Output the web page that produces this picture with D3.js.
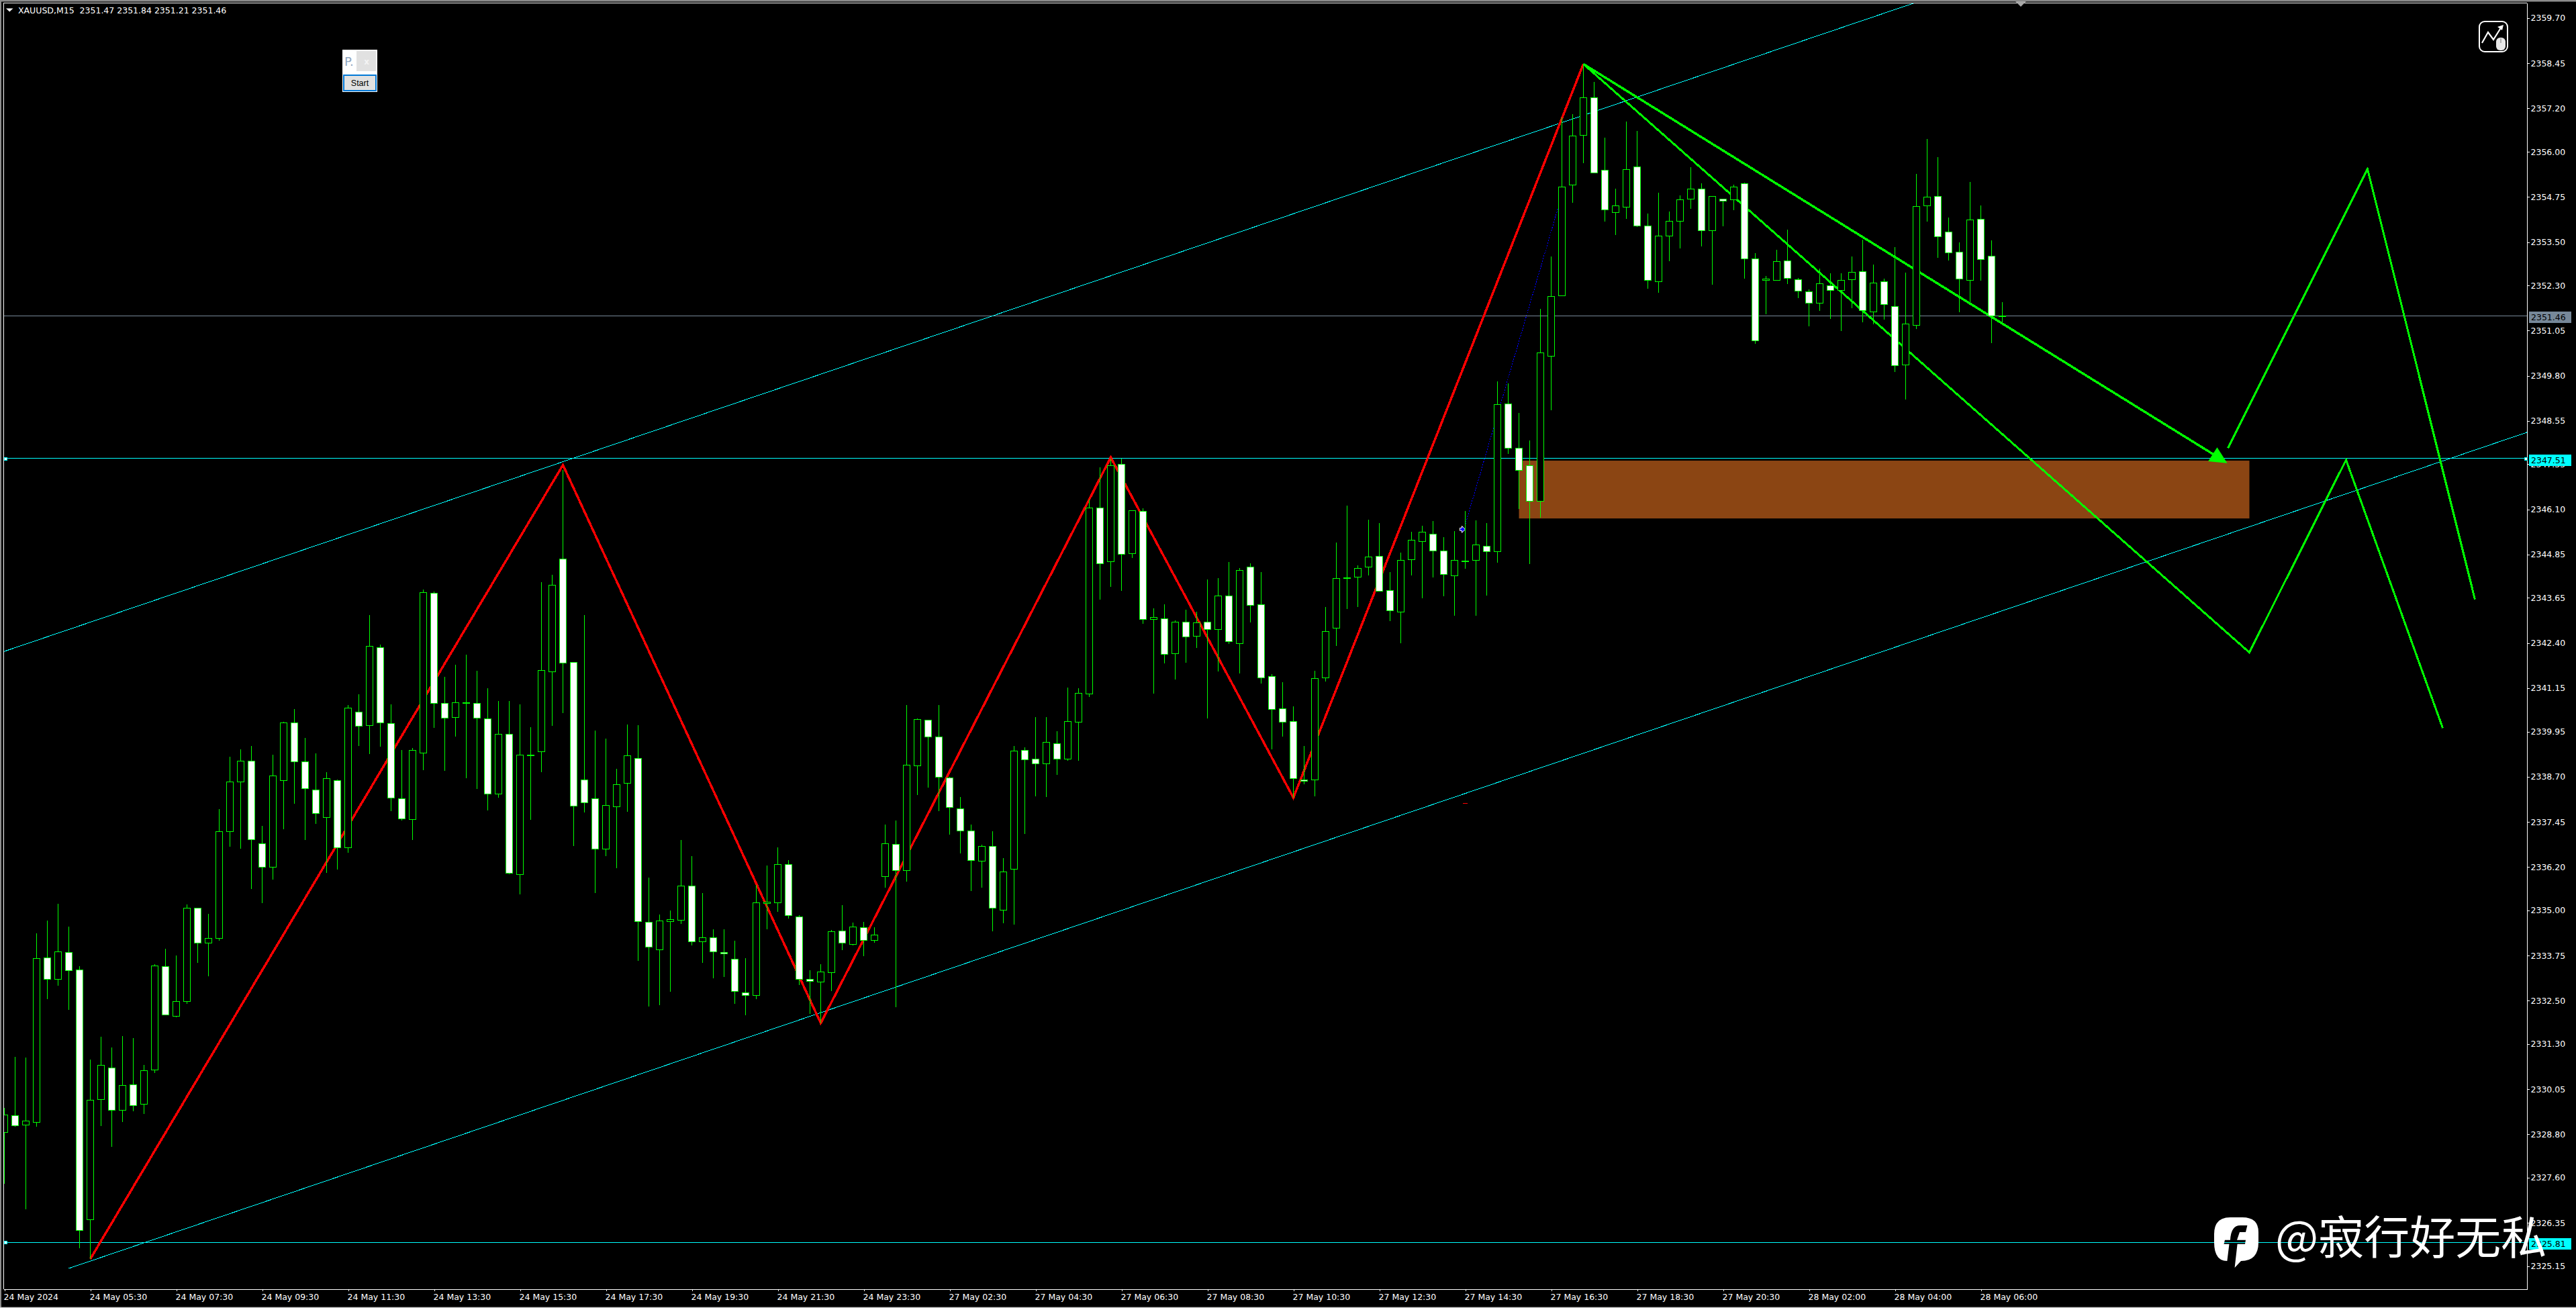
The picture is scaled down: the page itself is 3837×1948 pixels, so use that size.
<!DOCTYPE html>
<html>
<head>
<meta charset="utf-8">
<title>XAUUSD,M15</title>
<script src="https://cdn.jsdelivr.net/npm/d3@7"></script>
<style>
    html, body { margin: 0; padding: 0; background: #000; overflow: hidden; }
    svg { display: block; }
    text { font-family: "DejaVu Sans", sans-serif; font-size: 12.5px; }
</style>
</head>
<body>
<div id="wrapper"></div>
<script>
// M15 bars, index 0 = 24 May 2024 03:30
const opens = [
    2328.86,2329.33,2329.07,2329.14,2333.70,2333.10,2333.85,2333.36,2326.44,2329.77,
    2330.65,2329.48,2330.18,2329.64,2330.59,2333.46,2332.08,2332.49,2335.07,2334.11,
    2334.24,2337.19,2338.56,2339.14,2336.86,2336.21,2338.60,2340.20,2339.12,2338.34,
    2337.58,2338.60,2336.75,2340.49,2340.12,2342.28,2340.18,2338.10,2337.53,2339.36,
    2343.78,2340.74,2340.35,2340.74,2340.74,2340.31,2338.23,2339.88,2336.00,2339.29,
    2339.40,2341.61,2344.74,2341.87,2338.62,2338.10,2336.71,2337.88,2338.53,2339.21,
    2334.68,2333.92,2334.70,2334.74,2335.69,2334.15,2334.25,2333.85,2333.66,2332.73,
    2332.66,2335.20,2335.22,2336.28,2334.83,2333.10,2333.03,2333.29,2334.44,2334.07,
    2334.53,2334.18,2335.95,2336.84,2336.12,2339.01,2340.27,2339.81,2338.67,2337.82,
    2337.21,2336.37,2336.79,2335.02,2336.15,2339.44,2339.20,2339.07,2339.62,2339.20,
    2340.22,2341.00,2346.15,2344.66,2347.35,2344.88,2346.05,2343.06,2343.08,2342.11,
    2342.99,2342.60,2342.99,2342.78,2343.71,2342.39,2344.51,2343.47,2341.48,2340.59,
    2340.23,2338.62,2338.62,2341.44,2342.82,2344.19,2344.23,2344.51,2344.81,2343.86,
    2343.26,2344.72,2345.22,2345.42,2344.96,2344.27,2344.66,2344.70,2345.09,2344.94,
    2349.03,2347.81,2347.33,2346.33,2350.35,2352.02,2355.09,2356.46,2357.51,2355.50,
    2354.33,2354.48,2355.59,2353.96,2352.41,2353.68,2354.09,2354.70,2354.98,2353.83,
    2354.70,2354.68,2355.13,2353.04,2352.45,2352.45,2352.99,2352.47,2352.13,2351.82,
    2352.31,2352.18,2352.47,2352.69,2351.57,2352.41,2351.73,2350.11,2351.20,2354.51,
    2354.77,2353.79,2353.23,2352.45,2354.14,2353.12,2351.47
]
const highs = [
    2329.53,2330.94,2330.92,2334.37,2334.72,2335.18,2334.55,2333.46,2330.87,2331.50,
    2331.21,2331.52,2331.46,2330.72,2333.51,2333.94,2333.75,2335.16,2335.07,2334.90,
    2337.81,2339.25,2339.45,2339.55,2337.34,2339.31,2340.22,2340.57,2339.77,2339.34,
    2338.82,2338.62,2340.68,2340.98,2343.17,2342.35,2340.70,2339.44,2339.49,2343.88,
    2343.82,2341.46,2341.80,2342.07,2341.63,2341.15,2340.79,2340.79,2340.70,2340.07,
    2344.08,2344.30,2347.19,2341.87,2343.17,2339.98,2339.75,2338.91,2340.14,2340.12,
    2335.91,2334.88,2335.00,2336.95,2336.51,2335.48,2334.48,2334.48,2334.16,2333.68,
    2335.70,2336.24,2336.75,2336.39,2334.87,2333.35,2333.51,2334.46,2335.14,2334.66,
    2334.68,2334.53,2337.38,2337.49,2340.68,2340.31,2340.27,2340.68,2338.69,2338.13,
    2337.38,2336.82,2337.19,2336.45,2339.56,2339.51,2340.35,2340.35,2339.96,2341.16,
    2341.15,2346.37,2347.26,2347.50,2347.50,2346.07,2346.13,2343.36,2343.47,2343.02,
    2343.32,2343.26,2344.17,2344.19,2344.64,2344.47,2344.60,2344.36,2341.54,2341.31,
    2340.64,2339.56,2341.63,2343.40,2345.18,2346.20,2344.56,2345.81,2345.72,2344.36,
    2344.90,2345.48,2345.65,2345.78,2345.33,2345.50,2346.05,2345.79,2345.72,2349.64,
    2349.59,2348.77,2348.01,2351.65,2353.11,2356.95,2357.04,2358.43,2357.93,2356.39,
    2354.98,2356.84,2356.58,2354.29,2354.87,2354.35,2354.79,2355.57,2355.13,2354.77,
    2354.70,2355.09,2355.15,2353.19,2352.56,2353.29,2353.84,2352.51,2352.19,2352.76,
    2352.63,2352.63,2353.11,2353.56,2352.87,2352.49,2353.36,2352.65,2355.39,2356.35,
    2355.85,2354.18,2353.49,2355.16,2354.51,2353.55,2351.84
]
const lows = [
    2327.43,2329.01,2326.72,2329.01,2332.54,2332.91,2332.25,2325.64,2325.35,2329.03,
    2328.45,2329.14,2329.44,2329.36,2330.50,2332.12,2332.04,2332.41,2333.55,2333.17,
    2334.16,2336.76,2336.70,2335.59,2335.21,2335.85,2337.25,2337.95,2336.95,2337.39,
    2336.04,2336.13,2336.60,2339.55,2339.32,2339.53,2337.75,2337.49,2336.95,2338.88,
    2340.05,2338.86,2339.81,2338.65,2338.36,2337.77,2338.12,2336.00,2335.44,2337.51,
    2338.82,2340.10,2340.46,2336.79,2337.71,2335.48,2336.51,2336.17,2337.73,2333.60,
    2332.34,2332.38,2332.75,2334.63,2334.03,2333.55,2333.12,2333.15,2332.41,2332.10,
    2332.54,2334.48,2334.96,2334.78,2332.93,2332.14,2331.88,2332.77,2333.90,2334.03,
    2333.73,2334.11,2335.63,2332.32,2335.80,2338.19,2338.40,2337.75,2337.10,2336.58,
    2335.54,2335.63,2334.42,2334.65,2334.61,2337.12,2338.16,2338.14,2338.75,2339.14,
    2339.14,2340.90,2343.60,2343.95,2343.84,2344.75,2342.93,2341.00,2341.83,2341.39,
    2341.85,2342.26,2340.31,2341.61,2342.37,2341.55,2342.97,2341.28,2339.45,2339.81,
    2338.12,2338.49,2338.16,2341.33,2342.32,2343.34,2343.40,2344.27,2343.82,2343.00,
    2342.39,2344.27,2343.64,2344.21,2343.69,2343.16,2344.46,2343.16,2343.71,2344.62,
    2347.64,2346.11,2344.59,2345.87,2348.85,2352.00,2354.59,2355.68,2355.42,2354.07,
    2353.69,2354.14,2353.92,2352.21,2352.10,2352.97,2353.32,2354.42,2353.38,2352.32,
    2353.94,2354.38,2352.49,2350.68,2351.50,2352.45,2352.34,2351.95,2351.17,2351.59,
    2351.38,2351.04,2351.67,2351.28,2351.22,2351.36,2349.91,2349.14,2351.09,2354.07,
    2353.06,2352.99,2351.56,2351.82,2352.43,2350.71,2351.21
]
const closes = [
    2329.35,2329.05,2329.18,2333.68,2333.10,2333.86,2333.35,2326.15,2329.75,2330.72,
    2329.48,2330.16,2329.60,2330.57,2333.47,2332.12,2332.49,2335.07,2334.11,2334.24,
    2337.19,2338.56,2339.14,2336.96,2336.21,2338.73,2340.20,2339.12,2338.38,2337.69,
    2338.65,2336.75,2340.61,2340.10,2342.32,2340.20,2338.12,2337.55,2339.44,2343.80,
    2340.74,2340.33,2340.76,2340.76,2340.33,2338.23,2339.88,2336.04,2339.31,2339.31,
    2341.65,2344.02,2341.85,2337.90,2337.99,2336.71,2337.92,2338.49,2339.29,2334.70,
    2334.00,2334.72,2334.75,2335.69,2334.15,2334.25,2333.86,2333.81,2332.77,2332.66,
    2335.22,2335.24,2336.28,2334.87,2333.10,2333.05,2333.31,2334.42,2334.11,2334.55,
    2334.18,2334.33,2336.86,2336.12,2339.03,2340.29,2339.81,2338.69,2337.86,2337.21,
    2336.39,2336.79,2335.07,2336.08,2339.42,2339.18,2339.07,2339.66,2339.20,2340.23,
    2341.02,2346.15,2344.60,2347.33,2344.87,2346.07,2343.06,2343.12,2342.09,2342.99,
    2342.58,2342.97,2342.78,2343.71,2342.45,2344.42,2343.45,2341.44,2340.57,2340.22,
    2338.65,2338.58,2341.42,2342.73,2344.19,2344.21,2344.47,2344.79,2343.84,2343.30,
    2344.70,2345.26,2345.48,2344.96,2344.31,2344.70,2344.68,2345.13,2344.94,2349.01,
    2347.81,2347.19,2346.33,2350.44,2352.00,2355.03,2356.44,2357.51,2355.42,2354.40,
    2354.51,2355.52,2353.96,2352.45,2353.68,2354.09,2354.68,2354.98,2353.83,2354.77,
    2354.64,2355.03,2353.04,2350.78,2352.49,2352.97,2352.51,2352.16,2351.82,2352.35,
    2352.18,2352.45,2352.67,2351.61,2352.37,2351.78,2350.09,2351.24,2354.49,2354.75,
    2353.66,2353.21,2352.49,2354.12,2353.03,2351.47,2351.46
]

// price axis labels, top to bottom
const priceTicks = [
    2359.70,2358.45,2357.20,2356.00,2354.75,2353.50,2352.30,2351.05,2349.80,2348.55,
    2347.35,2346.10,2344.85,2343.65,2342.40,2341.15,2339.95,2338.70,2337.45,2336.20,
    2335.00,2333.75,2332.50,2331.30,2330.05,2328.80,2327.60,2326.35,2325.15
]
// time axis labels, one every 8 bars
const timeLabels = [
    "24 May 2024","24 May 05:30","24 May 07:30","24 May 09:30","24 May 11:30","24 May 13:30",
    "24 May 15:30","24 May 17:30","24 May 19:30","24 May 21:30","24 May 23:30","27 May 02:30",
    "27 May 04:30","27 May 06:30","27 May 08:30","27 May 10:30","27 May 12:30","27 May 14:30",
    "27 May 16:30","27 May 18:30","27 May 20:30","28 May 02:00","28 May 04:00","28 May 06:00"
]

// chart objects as [bar index, price]
const zigzag = [[8,2325.35],[52,2347.33],[76,2331.88],[103,2347.54],[120,2338.12],[147,2358.43]]
const upperChannel = [[-1,2342.07],[178,2360.14]]
const lowerChannel = [[6,2325.09],[235,2348.25]]
const forecastA = [[147,2358.43],[209,2342.14],[218,2347.47],[227,2340.05]]
const forecastB = [[147,2358.43],[206,2347.56]]
const forecastC = [[207,2347.80],[220,2355.52],[230,2343.61]]
const arrowHead = [[206,2347.82],[205.16,2347.43],[206.94,2347.38]]
const blueTrend = [[136,2345.68],[145,2354.81]]
const redDash = [[135.78,2337.97],[136.22,2337.97]]
const zone = {from: 141, to: 209, top: 2347.45, bottom: 2345.85}
const levels = [2347.51, 2325.81]
const bidPrice = 2351.46

const lime = "#00ff00", aqua = "#00ffff", bidColor = "#778899"

drawChart()

function drawChart() {
    const dimensions = {
        width: 3837, height: 1948,
        left: 5, right: 3764, top: 4, bottom: 1920,
    }
    const wrapper = d3.select("#wrapper").append("svg")
        .attr("width", dimensions.width)
        .attr("height", dimensions.height)
    wrapper.append("rect")
        .attr("width", dimensions.width).attr("height", dimensions.height).attr("fill", "#000")

    // bar i sits at 6.5 + 16 * i
    const xScale = d3.scaleLinear().domain([-0.09375, 234.84375]).range([dimensions.left, dimensions.right])
    // 53.8 px per dollar
    const yScale = d3.scaleLinear().domain([2360.1275, 2324.514]).range([dimensions.top, dimensions.bottom])

    drawFrame(wrapper, dimensions)

    wrapper.append("clipPath").attr("id", "plot").append("rect")
        .attr("x", dimensions.left + 1).attr("y", dimensions.top + 1)
        .attr("width", dimensions.right - dimensions.left - 1)
        .attr("height", dimensions.bottom - dimensions.top - 1)
    const bounds = wrapper.append("g").attr("clip-path", "url(#plot)")

    drawObjects(bounds, xScale, yScale)
    drawCandles(bounds, xScale, yScale)
    drawAxes(wrapper, xScale, yScale, dimensions)
    drawPriceTags(wrapper, yScale, dimensions)
    drawPanel(wrapper)
    drawIcon(wrapper)
    drawWatermark(wrapper)
}

function drawFrame(wrapper, dimensions) {
    wrapper.append("rect").attr("width", dimensions.width).attr("height", 2.5).attr("fill", "#8c8c8c")
    wrapper.append("rect").attr("width", 2).attr("height", dimensions.height).attr("fill", "#8c8c8c")
    wrapper.append("rect").attr("y", 1946.7).attr("width", dimensions.width).attr("height", 1.3).attr("fill", "#d4d4d4")
    wrapper.append("path")
        .attr("d", `M${dimensions.left},${dimensions.bottom}V${dimensions.top + 0.5}H${dimensions.right}`)
        .attr("fill", "none").attr("stroke", "#fff").attr("shape-rendering", "crispEdges")
}

function drawObjects(bounds, xScale, yScale) {
    const line = d3.line().x(d => xScale(d[0])).y(d => yScale(d[1]))
    const addLine = (points, color, width) => bounds.append("path")
        .attr("d", line(points))
        .attr("fill", "none")
        .attr("stroke", color)
        .attr("stroke-width", width)
        .attr("stroke-linejoin", "miter")
        .attr("shape-rendering", "crispEdges")

    bounds.append("rect")
        .attr("x", xScale(zone.from))
        .attr("y", yScale(zone.top))
        .attr("width", xScale(zone.to) - xScale(zone.from))
        .attr("height", yScale(zone.bottom) - yScale(zone.top))
        .attr("fill", "#8b4513")

    addLine([[-1, bidPrice], [235, bidPrice]], bidColor, 1)
    levels.forEach(level => addLine([[-1, level], [235, level]], aqua, 1))
    addLine(upperChannel, aqua, 1)
    addLine(lowerChannel, aqua, 1)
    addLine(zigzag, "#ff0000", 3.4)
    addLine(forecastA, lime, 3)
    addLine(forecastB, lime, 3.4)
    addLine(forecastC, lime, 3)
    bounds.append("path").attr("d", line(arrowHead) + "Z").attr("fill", lime)
    addLine(blueTrend, "#0000ff", 1).attr("stroke-dasharray", "2,2")
    addLine(redDash, "#ff0000", 1)

    // trendline anchor left on the chart
    const ax = xScale(blueTrend[0][0]) - 3, ay = yScale(blueTrend[0][1]) + 7
    bounds.append("path")
        .attr("d", `M${ax - 5},${ay - 2}h3v-3l5,5l-5,5v-3h-3z`)
        .attr("fill", "#0000ff").attr("stroke", "#fff").attr("stroke-width", 1)
}

function drawCandles(bounds, xScale, yScale) {
    const dataset = opens.map((open, i) => ({i, open, high: highs[i], low: lows[i], close: closes[i]}))
    const candles = bounds.append("g").attr("shape-rendering", "crispEdges")
    const centre = d => Math.round(xScale(d.i) - 0.5) + 0.5

    candles.selectAll("line")
        .data(dataset)
        .join("line")
        .attr("x1", centre)
        .attr("x2", centre)
        .attr("y1", d => Math.round(yScale(d.high)))
        .attr("y2", d => Math.round(yScale(d.low)))
        .attr("stroke", lime)

    const bodyTop = d => Math.round(yScale(Math.max(d.open, d.close)))
    candles.selectAll("rect")
        .data(dataset)
        .join("rect")
        .attr("x", d => centre(d) - 5)
        .attr("y", d => bodyTop(d) + 0.5)
        .attr("width", 10)
        .attr("height", d => Math.max(Math.round(yScale(Math.min(d.open, d.close))) - bodyTop(d), 1))
        .attr("fill", d => d.close >= d.open ? "#000" : "#fff")
        .attr("stroke", lime)
}

function drawAxes(wrapper, xScale, yScale, dimensions) {
    const yAxisGenerator = d3.axisRight(yScale)
        .tickValues(priceTicks)
        .tickFormat(d3.format(".2f"))
        .tickSize(4)
        .tickPadding(2)
        .tickSizeOuter(0)
    const yAxis = wrapper.append("g")
        .attr("transform", `translate(${dimensions.right - 0.5},0)`)
        .call(yAxisGenerator)
    yAxis.attr("font-family", null).attr("font-size", null)
    yAxis.selectAll(".domain, .tick line").attr("stroke", "#fff").attr("shape-rendering", "crispEdges")
    yAxis.selectAll("text").attr("fill", "#fff")

    const xAxisGenerator = d3.axisBottom(xScale)
        .tickValues(timeLabels.map((d, i) => i * 8))
        .tickFormat((d, i) => timeLabels[i])
        .tickSize(3)
        .tickSizeOuter(0)
    const xAxis = wrapper.append("g")
        .attr("transform", `translate(0,${dimensions.bottom - 0.5})`)
        .call(xAxisGenerator)
    xAxis.attr("font-family", null).attr("font-size", null)
    xAxis.selectAll(".domain, .tick line").attr("stroke", "#fff").attr("shape-rendering", "crispEdges")
    xAxis.selectAll("text")
        .attr("fill", "#fff")
        .attr("text-anchor", "start")
        .attr("x", -1.5)
        .attr("y", 8)

    // symbol line top left
    wrapper.append("path").attr("d", "M9,12.5h10.5l-5.25,5z").attr("fill", "#fff")
    wrapper.append("text")
        .attr("x", 27).attr("y", 20)
        .attr("fill", "#fff")
        .attr("xml:space", "preserve")
        .style("white-space", "pre")
        .text("XAUUSD,M15  2351.47 2351.84 2351.21 2351.46")

    // shift marker on the top edge
    wrapper.append("path").attr("d", "M3002,2h16l-8,8z").attr("fill", "#a8a8a8")
}

function drawPriceTags(wrapper, yScale, dimensions) {
    const tags = [
        {price: levels[0], color: aqua},
        {price: levels[1], color: aqua},
        {price: bidPrice, color: bidColor},
    ]
    const group = wrapper.append("g")
    tags.forEach(tag => {
        const y = Math.round(yScale(tag.price))
        group.append("rect")
            .attr("x", 3767).attr("y", y - 6)
            .attr("width", 63).attr("height", 17)
            .attr("fill", tag.color)
        group.append("text")
            .attr("x", 3770).attr("y", y + 7)
            .attr("fill", "#000")
            .text(tag.price.toFixed(2))
        if (tag.color === aqua) {
            [8, dimensions.right - 2].forEach(x => group.append("rect")
                .attr("x", x - 2).attr("y", y - 2)
                .attr("width", 4).attr("height", 4)
                .attr("fill", "#fff").attr("stroke", aqua)
                .attr("shape-rendering", "crispEdges"))
        }
    })
}

function drawPanel(wrapper) {
    const panel = wrapper.append("g")
    panel.append("rect").attr("x", 510).attr("y", 74).attr("width", 52).attr("height", 63).attr("fill", "#fff")
    panel.append("rect").attr("x", 531).attr("y", 76).attr("width", 29).attr("height", 30).attr("fill", "#e1e1e1")
    panel.append("text").attr("x", 513).attr("y", 98)
        .attr("fill", "#8fa6c0").style("font-size", "18px").text("P.")
    panel.append("text").attr("x", 546).attr("y", 96).attr("text-anchor", "middle")
        .attr("fill", "#f4f4f4").style("font-size", "12px").style("font-weight", "bold").text("x")
    panel.append("rect").attr("x", 512).attr("y", 112).attr("width", 48).attr("height", 23)
        .attr("fill", "#e1e1e1").attr("stroke", "#0078d7").attr("stroke-width", 2)
    panel.append("text").attr("x", 536).attr("y", 128).attr("text-anchor", "middle")
        .attr("fill", "#000").style("font-family", "Liberation Sans").style("font-size", "12.5px").text("Start")
}

function drawIcon(wrapper) {
    const icon = wrapper.append("g")
    icon.append("rect").attr("x", 3693).attr("y", 32).attr("width", 42).attr("height", 45).attr("rx", 8)
        .attr("fill", "#000").attr("stroke", "#fff").attr("stroke-width", 2)
    icon.append("path").attr("d", "M3697,64L3706,48L3714,59L3726,40")
        .attr("fill", "none").attr("stroke", "#fff").attr("stroke-width", 2.2)
    icon.append("path").attr("d", "M3729,37l-9,3l7,5z").attr("fill", "#fff")
    icon.append("rect").attr("x", 3718).attr("y", 56).attr("width", 14).attr("height", 19).attr("rx", 6).attr("fill", "#e8e8e8")
    icon.append("path").attr("d", "M3725,57v7").attr("stroke", "#777")
}

function drawWatermark(wrapper) {
    // the f is a notch in the outline so lines show through it
    wrapper.append("path")
        .attr("d", "M3317.4,1878L3320.5,1852.7H3312.5L3314,1846.7H3322Q3323,1825 3337,1825H3347.4L3345,1835H3336L3332,1846.7H3345"
            + "L3344,1852.7H3332.6L3328.6,1888L3338,1878Q3364,1878 3364,1850V1835Q3364,1813 3340,1813H3322Q3298,1813 3298,1838V1850Q3298,1878 3317.4,1878Z")
        .attr("fill", "#fff")
    wrapper.append("text")
        .attr("x", 3389).attr("y", 1868)
        .attr("fill", "#fff")
        .style("font-family", "Noto Sans CJK SC")
        .style("font-size", "68px")
        .text("@寂行好无私")
}
</script>
</body>
</html>
